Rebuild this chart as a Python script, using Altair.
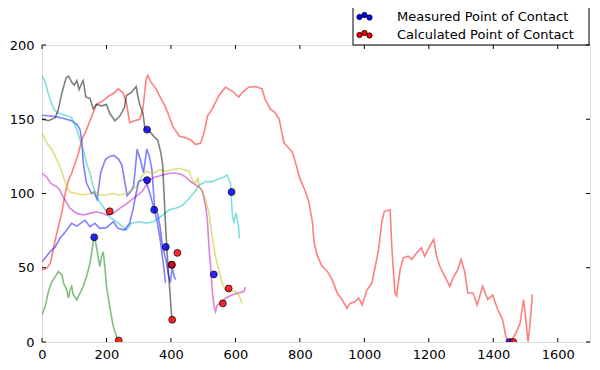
import altair as alt
import pandas as pd

# ---------------- data ----------------
blueA_x = [0, 41, 67, 92, 108, 118, 123, 128, 138, 154, 161, 171, 182, 197, 210, 223, 238, 248, 259, 264,
           274, 284, 290, 295, 300, 305, 315, 320, 325, 333, 341, 346, 350, 358, 366, 372, 378, 383]
blueA_y = [152.7, 151.8, 150.5, 149, 146.6, 143, 136, 120.5, 107, 100, 101, 96, 114, 123, 125, 125.6, 123, 119, 105, 98.5,
           101, 105, 118, 130, 126, 123, 114, 122, 130, 125, 116, 101, 88, 80, 70, 60, 50, 40]

blueB_x = [0, 26, 41, 56, 72, 92, 108, 133, 149, 164, 179, 200, 221, 236, 256, 272, 282, 292, 300, 310,
           320, 335, 348, 358, 366, 374, 385, 392, 398, 404, 410, 415]
blueB_y = [54, 61, 64, 70, 74, 80, 78, 82, 77.6, 80, 76.5, 77, 81, 76.5, 75.4, 80, 89, 100, 108, 109,
           110, 100, 89, 87, 78, 64, 55, 45, 40, 50, 44, 42]

green_x = [0, 10, 21, 31, 41, 51, 62, 67, 77, 82, 87, 92, 97, 108, 118, 128, 138, 149, 159, 164,
           169, 174, 179, 185, 190, 195, 200, 210, 221, 231, 236]
green_y = [18.3, 24, 35, 40.7, 44, 47.4, 45, 39.6, 35, 29.5, 35, 37.4, 31.8, 28.4, 32.9, 37.4, 44, 53, 67.6, 69.8,
           64, 57.5, 50.8, 57.5, 60.8, 50.8, 37.4, 24, 10.5, 3.8, 0]

red_x = [0, 15, 26, 41, 62, 72, 82, 92, 113, 123, 138, 159, 169, 190, 210, 226, 236, 251, 262, 272,
         287, 303, 313, 323, 328, 338, 354, 364, 379, 390, 405, 426, 446, 462, 477, 492, 503, 513, 528, 549,
         569, 590, 610, 621, 641, 662, 682, 692, 708, 723, 736, 744, 751, 764, 776, 781, 790, 800, 818, 828,
         839, 844, 854, 869, 885, 900, 916, 931, 946, 956, 972, 982, 993, 1008, 1023, 1034, 1044, 1054, 1062, 1080,
         1085, 1095, 1100, 1111, 1121, 1136, 1147, 1162, 1177, 1187, 1203, 1215, 1224, 1234, 1249, 1265, 1275, 1290, 1300, 1311,
         1321, 1337, 1350, 1367, 1383, 1398, 1414, 1429, 1439, 1446, 1455, 1470, 1483, 1494, 1501, 1508, 1514, 1521]
red_y = [48.5, 49.7, 53, 68.7, 87.7, 100, 109, 113.6, 127, 136, 143, 154.5, 160, 162.5, 166, 168, 170.5, 168, 161, 147.7,
         149, 150, 157, 177, 179.5, 175, 170.5, 166, 160, 154.5, 145.5, 138.6, 137.5, 136, 133, 134, 141, 152, 157, 166,
         171.6, 169, 165, 168, 171.6, 172, 170.5, 163.6, 157, 154.5, 150, 141, 134, 131, 128, 125, 118, 110, 101, 94,
         80.5, 67, 58, 51, 47.7, 42, 33, 28.5, 22.8, 26, 27.3, 29.5, 25, 35, 39.5, 51, 62, 80.5, 88, 89,
         64.6, 33, 31, 48.8, 56.7, 57.8, 55.6, 60, 63.5, 57.8, 64.6, 69, 57.8, 51, 44.3, 37.5, 43, 48.8, 55.6, 47.7,
         33, 33, 25, 37.5, 28.5, 31.6, 21.7, 15, 3.6, 0.5, 0.5, 5.9, 12.6, 28.5, 15, 0.2, 12, 32]

cyan_x = [0, 10, 21, 36, 46, 67, 82, 92, 108, 118, 128, 138, 149, 159, 169, 180, 190, 210, 231, 251,
          262, 277, 303, 323, 344, 359, 374, 395, 415, 436, 456, 477, 487, 508, 528, 549, 564, 574, 585, 587,
          590, 595, 602, 610, 612]
cyan_y = [179.5, 175, 166, 157, 154.5, 153, 152, 151, 143, 136, 129.5, 120.5, 113.6, 104.5, 97.7, 94, 91, 84, 81, 77.6,
          75.4, 80, 81, 80, 81, 83, 85.5, 89, 90, 92, 96.6, 102, 105.6, 108, 108, 110, 111, 112.5, 107, 97.8,
          87, 80, 87, 77.6, 69.8]

magenta_x = [0, 15, 26, 46, 56, 67, 72, 87, 108, 128, 149, 169, 190, 200, 221, 241, 262, 282, 292, 303,
             313, 333, 349, 374, 395, 415, 431, 446, 462, 477, 487, 497, 508, 513, 518, 523, 528, 533, 538, 544,
             554, 569, 590, 610, 626, 631]
magenta_y = [113.6, 111, 107, 104.5, 102, 97, 95.5, 90, 86.6, 85.5, 86.6, 87.7, 86.6, 85.5, 86.6, 90, 93, 96.6, 98, 100,
             102, 109, 111, 112.5, 113.6, 113.6, 113, 111, 107.9, 105.7, 104.5, 102, 91, 82, 64, 51, 35, 25, 20.6, 25,
             26, 29.5, 31.8, 33, 34, 37]

yellow_x = [0, 15, 31, 46, 56, 67, 77, 87, 108, 128, 149, 164, 179, 200, 221, 241, 262, 277, 292, 308,
            323, 344, 364, 385, 405, 426, 441, 456, 467, 477, 484, 487, 497, 508, 518, 528, 538, 549, 559, 569,
            585, 600, 610, 621]
yellow_y = [141, 134, 129.5, 122.7, 118, 111, 104.5, 101, 100, 99, 100, 101, 99, 99, 100, 99, 100, 102, 104.5, 111,
            114.8, 113.6, 116, 115, 116, 117, 116, 115, 109, 107, 111, 104.5, 102, 95.5, 86.6, 71, 57.5, 48.5, 39.6, 35,
            35, 34, 31.8, 26]

gray_x = [0, 20, 41, 50, 62, 75, 82, 92, 100, 108, 115, 123, 128, 136, 149, 159, 169, 185, 200, 210,
          226, 241, 256, 262, 277, 292, 297, 303, 313, 320, 333, 349, 359, 369, 374, 379, 383, 388, 393, 398, 402, 403]
gray_y = [150, 149, 151, 156, 168, 178, 179, 175, 173, 176, 170, 174, 176, 165, 164, 157, 160, 159, 160, 154,
          149, 152, 158, 166, 168, 172, 166, 160, 154, 143, 142, 138, 136, 127, 120, 98, 80, 60, 45, 30, 18, 14]

meas_x = [326, 326, 348, 162, 384, 402, 533, 588, 1450]
meas_y = [143, 109, 89, 70.5, 64, 52, 45.5, 101, 0]
calc_x = [210, 420, 403, 404, 238, 561, 579, 1462]
calc_y = [88, 60, 52, 15, 1, 26, 36, 0]

x_ticks = [0, 200, 400, 600, 800, 1000, 1200, 1400, 1600]
y_ticks = [0, 50, 100, 150, 200]

series = [
    ("blueA", blueA_x, blueA_y, "#0000ff"),
    ("green", green_x, green_y, "#008000"),
    ("red", red_x, red_y, "#ff0000"),
    ("cyan", cyan_x, cyan_y, "#00bfbf"),
    ("magenta", magenta_x, magenta_y, "#bf00bf"),
    ("yellow", yellow_x, yellow_y, "#bfbf00"),
    ("gray", gray_x, gray_y, "#000000"),
    ("blueB", blueB_x, blueB_y, "#0000ff"),
]

rows = []
for name, xs, ys, _ in series:
    assert len(xs) == len(ys), name
    for i, (xv, yv) in enumerate(zip(xs, ys)):
        rows.append({"series": name, "x": xv, "y": yv, "i": i})
lines_df = pd.DataFrame(rows)

meas_df = pd.DataFrame({"x": meas_x, "y": meas_y})
calc_df = pd.DataFrame({"x": calc_x, "y": calc_y})
xt_df = pd.DataFrame({"v": x_ticks})
yt_df = pd.DataFrame({"v": y_ticks})
one = pd.DataFrame({"k": [0]})

W, H = 548, 297
FONT = "DejaVu Sans"

xscale = alt.Scale(domain=[0, 1700], nice=False, zero=False)
yscale = alt.Scale(domain=[0, 200], nice=False)

x_axis = alt.Axis(values=x_ticks, ticks=False, domain=False, grid=False, labelPadding=6, title=None, format="d",
                  labelFontSize=13, labelFont=FONT, labelColor="black", labelFlush=False)
y_axis = alt.Axis(values=y_ticks, ticks=False, domain=False, grid=False, labelPadding=8, title=None, format="d",
                  labelFontSize=13, labelFont=FONT, labelColor="black", labelFlush=False)

lines = alt.Chart(lines_df).mark_line(strokeWidth=1.6, opacity=0.5, clip=True).encode(
    x=alt.X("x:Q", scale=xscale, axis=x_axis),
    y=alt.Y("y:Q", scale=yscale, axis=y_axis),
    color=alt.Color("series:N", scale=alt.Scale(domain=[s[0] for s in series], range=[s[3] for s in series]), legend=None),
    detail="series:N",
    order="i:Q",
)

meas = alt.Chart(meas_df).mark_circle(size=48, stroke="black", strokeWidth=0.9, opacity=0.85, clip=True).encode(
    x=alt.X("x:Q", scale=xscale), y=alt.Y("y:Q", scale=yscale), color=alt.value("#0000ff"))
calc = alt.Chart(calc_df).mark_circle(size=48, stroke="black", strokeWidth=0.9, opacity=0.85, clip=True).encode(
    x=alt.X("x:Q", scale=xscale), y=alt.Y("y:Q", scale=yscale), color=alt.value("#ff0000"))

# inward ticks on all four sides
tb = alt.Chart(xt_df).mark_rule(color="black", strokeWidth=1).encode(
    x=alt.X("v:Q", scale=xscale), y=alt.value(H), y2=alt.value(H - 4))
tt = alt.Chart(xt_df).mark_rule(color="black", strokeWidth=1).encode(
    x=alt.X("v:Q", scale=xscale), y=alt.value(0), y2=alt.value(4))
tl = alt.Chart(yt_df).mark_rule(color="black", strokeWidth=1).encode(
    y=alt.Y("v:Q", scale=yscale), x=alt.value(0), x2=alt.value(4))
tr = alt.Chart(yt_df).mark_rule(color="black", strokeWidth=1).encode(
    y=alt.Y("v:Q", scale=yscale), x=alt.value(W), x2=alt.value(W - 4))

# legend frame (matplotlib style), drawn with four rules
BL, BR, BT, BB = 311, 547, -38, 0
def hrule(yv):
    return alt.Chart(one).mark_rule(color="black", strokeWidth=1).encode(
        x=alt.value(BL), x2=alt.value(BR), y=alt.value(yv))
def vrule(xv):
    return alt.Chart(one).mark_rule(color="black", strokeWidth=1).encode(
        x=alt.value(xv), y=alt.value(BT), y2=alt.value(BB))

def leg_dots(yc, col):
    out = []
    for dx, dy in [(317.5, 0.5), (322.5, -1.5), (327.5, 1.0)]:
        out.append(alt.Chart(one).mark_circle(size=28, stroke="black", strokeWidth=0.8, opacity=1).encode(
            x=alt.value(dx), y=alt.value(yc + dy), color=alt.value(col)))
    return out

def leg_text(yc, txt):
    return alt.Chart(one).mark_text(align="left", baseline="middle", fontSize=13, font=FONT, color="black").encode(
        x=alt.value(355), y=alt.value(yc), text=alt.value(txt))

legend_layers = [hrule(BT), hrule(BB), vrule(BL), vrule(BR)] + leg_dots(-28.5, "#0000ff") + leg_dots(-10.5, "#ff0000") + [
    leg_text(-28.5, "Measured Point of Contact"), leg_text(-10.5, "Calculated Point of Contact")]

chart = alt.layer(lines, meas, calc, tb, tt, tl, tr, *legend_layers).properties(
    width=W, height=H, autosize="none",
    padding={"left": 34, "top": 37, "right": 2, "bottom": 20},
).configure_view(stroke="black", strokeWidth=1).configure(background="white")

chart.save("out.html", embed_options={"renderer": "svg", "actions": False})
